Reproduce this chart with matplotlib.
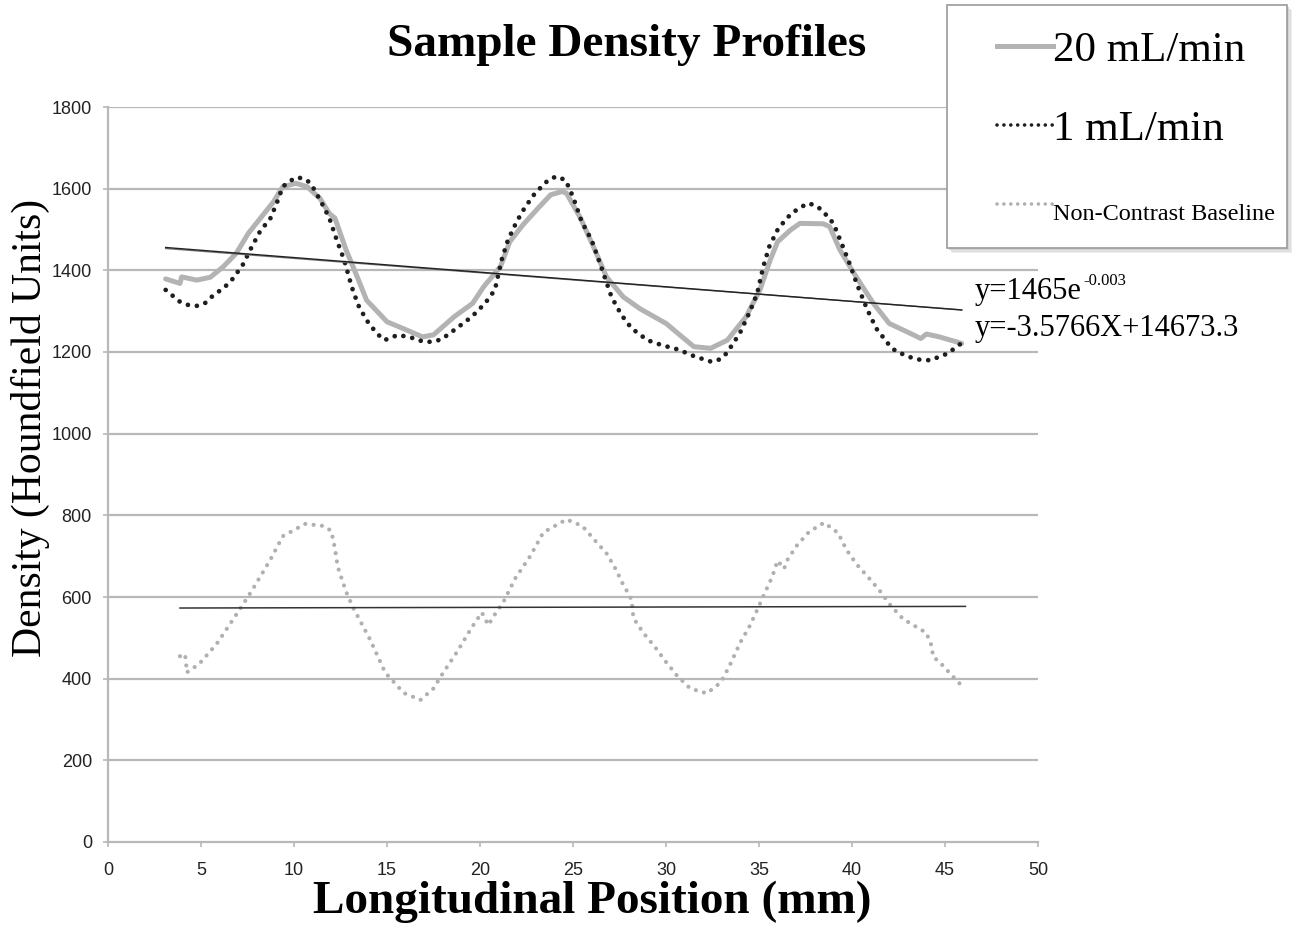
import matplotlib
matplotlib.use("Agg")
import matplotlib.pyplot as plt
from matplotlib.lines import Line2D
from matplotlib.patches import Rectangle
import numpy as np

# 20 mL/min (solid gray)
flow20_x = [3.1, 3.87, 3.96, 4.77, 5.5, 6.2, 6.9, 7.55, 8.2, 8.9, 9.4, 10.1, 10.7, 11.4, 11.9,
            12.2, 12.3, 12.8, 13.4, 13.9, 15.0, 16.05, 16.9, 17.5, 18.6, 19.6, 20.2, 21.1, 21.6,
            22.3, 23.2, 23.8, 24.4, 24.65, 25.4, 26.1, 26.8, 27.7, 28.6, 30.0, 31.5, 32.4, 33.3,
            34.3, 35.05, 35.6, 36.0, 36.7, 37.2, 38.45, 38.8, 39.35, 40.1, 41.15, 42.0, 43.3,
            43.7, 44.0, 44.7, 45.9]
flow20_y = [1379, 1368, 1384, 1376, 1383, 1409, 1442, 1491, 1528, 1568, 1605, 1613, 1605, 1576, 1539,
            1528, 1515, 1450, 1384, 1327, 1274, 1254, 1237, 1242, 1286, 1319, 1360, 1409, 1470,
            1511, 1556, 1585, 1593, 1589, 1528, 1458, 1384, 1335, 1306, 1270, 1213, 1209, 1229,
            1286, 1352, 1425, 1470, 1499, 1515, 1514, 1507, 1450, 1393, 1319, 1270, 1242,
            1233, 1244, 1237, 1221]

# 1 mL/min (black dotted)
flow1_x = [3.1, 3.42, 3.87, 4.32, 4.77, 5.2, 5.57, 5.98, 6.34, 6.7, 7.24, 7.69, 8.17, 8.74, 9.1,
           9.4, 9.78, 10.2, 10.7, 11.0, 11.5, 11.9, 12.3, 12.7, 13.1, 13.45, 13.9, 14.44, 14.86,
           15.6, 16.5, 16.95, 17.45, 17.93, 18.74, 19.55, 20.27, 20.8, 21.16, 21.5, 21.97, 22.4,
           22.96, 23.67, 24.1, 24.6, 25.0, 25.47, 26.0, 26.45, 27.07, 27.6, 28.15, 29.0, 29.76,
           30.66, 31.55, 32.45, 32.9, 33.26, 33.97, 34.5, 34.9, 35.23, 35.55, 36.04, 36.75, 37.6,
           38.0, 38.37, 38.7, 39.0, 39.44, 39.9, 40.25, 40.8, 41.3, 42.0, 42.4, 42.85, 43.3, 43.8,
           44.28, 44.7, 45.2, 45.5, 45.9]
flow1_y = [1352, 1340, 1323, 1315, 1313, 1319, 1335, 1349, 1362, 1379, 1413, 1454, 1495, 1528, 1568,
           1605, 1619, 1628, 1621, 1605, 1564, 1528, 1474, 1425, 1360, 1315, 1278, 1246, 1229,
           1242, 1233, 1225, 1225, 1231, 1258, 1286, 1319, 1352, 1425, 1474, 1519, 1553,
           1589, 1621, 1630, 1621, 1580, 1519, 1474, 1417, 1335, 1291, 1258, 1229, 1217,
           1206, 1189, 1176, 1182, 1197, 1246, 1298, 1343, 1409, 1458, 1503, 1540, 1564,
           1560, 1548, 1531, 1515, 1466, 1413, 1368, 1306, 1258, 1217, 1200, 1193, 1184, 1180,
           1180, 1189, 1197, 1209, 1222]

# Non-contrast baseline (light gray dotted)
base_x = [3.87, 4.14, 4.2, 4.23, 4.9, 5.84, 6.9, 7.7, 8.7, 9.4, 10.6, 11.6, 12.0, 12.2, 12.35,
          12.8, 13.2, 14.1, 14.9, 15.9, 16.8, 17.5, 18.0, 18.8, 19.55, 20.1, 20.45, 20.7, 21.25,
          21.9, 22.7, 23.4, 24.65, 25.5, 26.15, 26.8, 27.3, 27.7, 27.97, 28.15, 28.25, 28.8,
          29.4, 30.0, 30.6, 31.3, 32.2, 32.95, 33.4, 34.0, 34.5, 34.9, 35.3, 35.7, 36.0, 36.35,
          36.5, 37.05, 37.7, 38.5, 39.25, 39.7, 40.25, 40.9, 41.5, 42.1, 42.75, 43.6, 44.0, 44.3,
          44.35, 44.7, 45.35, 46.0]
base_y = [455, 460, 438, 415, 436, 485, 557, 613, 689, 749, 779, 774, 762, 719, 674,
          613, 572, 495, 415, 365, 348, 376, 413, 468, 525, 562, 531, 551, 587,
          646, 700, 758, 790, 774, 740, 707, 668, 630, 609, 593, 548, 511,
          478, 441, 407, 376, 364, 391, 430, 489, 529, 568, 609, 648, 689, 669,
          689, 727, 760, 782, 757, 716, 680, 647, 615, 578, 546, 523, 512, 478,
          454, 441, 409, 378]

# trendlines
trend_x = [3.1, 45.9]
lin_slope, lin_intercept = -3.5766, 1467.0
exp_a, exp_b = 1465.0, -0.00255
base_trend_x = [3.87, 46.1]
base_trend_y = [573, 577]

xticks = list(range(0, 51, 5))
yticks = list(range(0, 1801, 200))
series_labels = ["20 mL/min", "1 mL/min", "Non-Contrast Baseline"]

serif = ["Liberation Serif", "DejaVu Serif"]
sans = ["Liberation Sans", "DejaVu Sans"]

W, H = 1301, 931
fig = plt.figure(figsize=(W / 100, H / 100), dpi=100)
ax = fig.add_axes([108 / W, 89 / H, 930 / W, 735 / H])

grid_c = "#b8b8b8"
for yv in yticks[1:]:
    ax.axhline(yv, color=grid_c, lw=1.6, zorder=0)

ax.plot(flow20_x, flow20_y, color="#b3b3b3", lw=3.6, solid_capstyle="round",
        solid_joinstyle="round", zorder=3)
ax.plot(flow1_x, flow1_y, color="#1e1e1e", lw=3.4, linestyle=(0, (0.01, 1.9)),
        dash_capstyle="round", zorder=4)
ax.plot(base_x, base_y, color="#b0b0b0", lw=3.0, linestyle=(0, (0.01, 2.0)),
        dash_capstyle="round", zorder=3)

tx = np.array(trend_x)
ax.plot(tx, exp_a * np.exp(exp_b * tx), color="#777777", lw=1.0, zorder=5)
ax.plot(tx, lin_slope * tx + lin_intercept, color="#222222", lw=1.0, zorder=5)
ax.plot(base_trend_x, base_trend_y, color="#333333", lw=1.1, zorder=5)

ax.set_xlim(0, 50)
ax.set_ylim(0, 1800)
ax.set_xticks(xticks)
ax.set_yticks(yticks)
for s in ["top", "right"]:
    ax.spines[s].set_visible(False)
for s in ["left", "bottom"]:
    ax.spines[s].set_color(grid_c)
    ax.spines[s].set_linewidth(1.6)
ax.tick_params(axis="both", colors=grid_c, width=1.2, length=3.6, labelcolor="#222222",
               labelsize=13)
ax.tick_params(axis="x", pad=11)
ax.tick_params(axis="y", pad=8)
for lab in ax.get_xticklabels() + ax.get_yticklabels():
    lab.set_family(sans)

fig.text(627 / W, 1 - 45 / H, "Sample Density Profiles", ha="center", va="center",
         family=serif, fontsize=34, fontweight="bold")
fig.text(592 / W, 1 - 902 / H, "Longitudinal Position (mm)", ha="center", va="center",
         family=serif, fontsize=34, fontweight="bold")
fig.text(30 / W, 1 - 428 / H, "Density (Houndfield Units)", ha="center", va="center",
         rotation=90, family=serif, fontsize=30)

# trendline equations
eq1 = fig.text(975 / W, 1 - 291 / H, "y=1465e", ha="left", va="center",
               family=serif, fontsize=22)
fig.text(975 / W, 1 - 329 / H, "y=-3.5766X+14673.3", ha="left", va="center",
         family=serif, fontsize=22)
fig.canvas.draw()
bb = eq1.get_window_extent()
fig.text(bb.x1 / W + 1 / W, 1 - 281 / H, "-0.003", ha="left", va="center",
         family=serif, fontsize=12)

# legend frame with soft shadow
lx0, ly0, lx1, ly1 = 947, 5, 1287, 248
for k, c in enumerate(["#ececec", "#e0e0e0", "#d4d4d4"]):
    off = 5 - k * 1.5
    fig.patches.append(Rectangle(((lx0 + off) / W, 1 - (ly1 + off) / H),
                                 (lx1 - lx0) / W, (ly1 - ly0) / H,
                                 transform=fig.transFigure, facecolor=c, edgecolor="none",
                                 zorder=1))
fig.patches.append(Rectangle((lx0 / W, 1 - ly1 / H), (lx1 - lx0) / W, (ly1 - ly0) / H,
                             transform=fig.transFigure, facecolor="white",
                             edgecolor="#9a9a9a", lw=1.2, zorder=2))

handles = [
    Line2D([], [], color="#b3b3b3", lw=3.6),
    Line2D([], [], color="#1e1e1e", lw=2.6, linestyle=(0, (0.01, 1.9)), dash_capstyle="round"),
    Line2D([], [], color="#b0b0b0", lw=2.6, linestyle=(0, (0.01, 1.9)), dash_capstyle="round"),
]
leg = fig.legend(handles, series_labels, loc="upper left",
                 bbox_to_anchor=(997 / W, 1 - 31 / H), prop={"family": serif, "size": 31},
                 handlelength=1.3, handletextpad=0.0, labelspacing=0.93, borderpad=0,
                 borderaxespad=0, frameon=False)
leg.set_zorder(3)
leg.get_texts()[2].set_fontsize(17.5)

fig.savefig("out.png", dpi=100)
